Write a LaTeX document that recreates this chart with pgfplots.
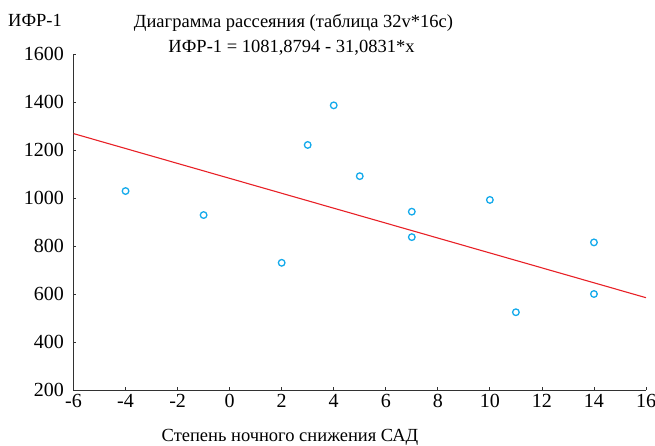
\documentclass[border=0pt]{standalone}
\usepackage{fontspec}
\setmainfont{Liberation Serif}
\usepackage{pgfplots}
\pgfplotsset{compat=1.18}
\definecolor{ptc}{RGB}{20,170,235}
\definecolor{lnc}{RGB}{232,32,38}
\definecolor{axc}{RGB}{50,50,50}
\begin{document}
\begin{tikzpicture}
\useasboundingbox (-73.5bp,-56bp) rectangle (581.5bp,390bp);
\begin{axis}[
  at={(0,0)}, anchor=south west,
  scale only axis, width=572.5bp, height=336bp,
  xmin=-6, xmax=16, ymin=200, ymax=1600,
  xtick={-6,-4,...,16}, ytick={200,400,...,1600},
  axis lines*=left, axis line style={-, axc, line width=0.9pt},
  tick align=inside, major tick length=3bp,
  tick style={axc, line width=0.8pt},
  /pgf/number format/assume math mode=true,
  /pgf/number format/1000 sep={},
  ticklabel style={font=\fontsize{20bp}{24bp}\selectfont},
  yticklabel style={xshift=-6bp},
  xticklabel style={yshift=-1bp},
  clip=false,
]
\addplot[lnc, line width=1.1pt] coordinates {(-6,1268.38) (16,584.55)};
\addplot[only marks, mark=o, mark size=3.3bp, mark options={ptc, line width=1.3pt}] coordinates {
(-4,1029) (-1,929) (2,730) (3,1221) (4,1386) (5,1091) (7,943) (7,837) (10,992) (11,524) (14,815) (14,600)
};
\end{axis}
\node[anchor=base west, font=\fontsize{18.5bp}{22bp}\selectfont, inner sep=0pt] at (-65.5bp,363bp) {ИФР-1};
\node[anchor=base, font=\fontsize{18.5bp}{22bp}\selectfont, inner sep=0pt] at (220bp,362bp) {Диаграмма рассеяния (таблица 32v*16c)};
\node[anchor=base, font=\fontsize{18.5bp}{22bp}\selectfont, inner sep=0pt] at (218bp,337bp) {ИФР-1 = 1081,8794 - 31,0831*x};
\node[anchor=base, font=\fontsize{18.5bp}{22bp}\selectfont, inner sep=0pt] at (216.5bp,-51bp) {Степень ночного снижения САД};
\end{tikzpicture}
\end{document}
